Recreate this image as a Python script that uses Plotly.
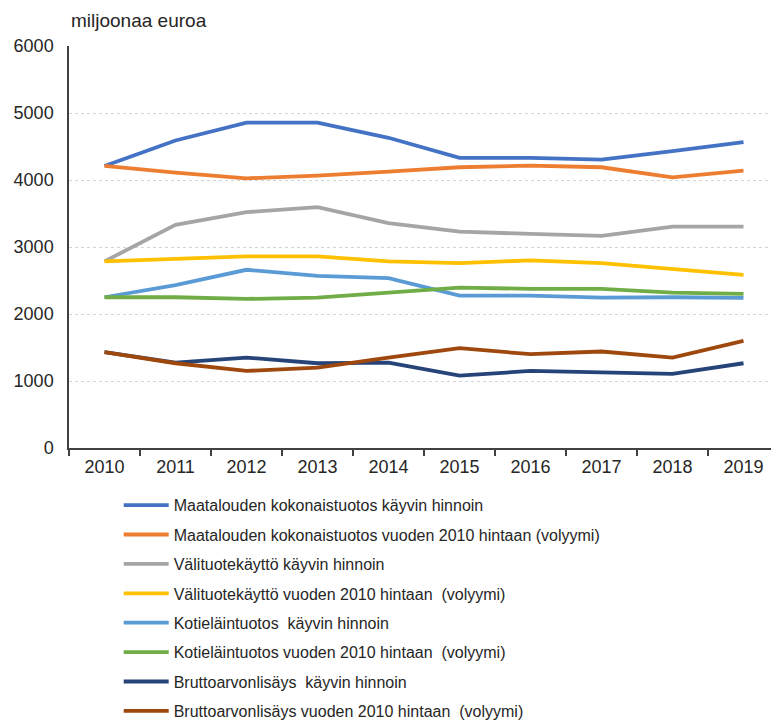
import plotly.graph_objects as go

years = ["2010", "2011", "2012", "2013", "2014", "2015", "2016", "2017", "2018", "2019"]

names = [
    "Maatalouden kokonaistuotos käyvin hinnoin",
    "Maatalouden kokonaistuotos vuoden 2010 hintaan (volyymi)",
    "Välituotekäyttö käyvin hinnoin",
    "Välituotekäyttö vuoden 2010 hintaan  (volyymi)",
    "Kotieläintuotos  käyvin hinnoin",
    "Kotieläintuotos vuoden 2010 hintaan  (volyymi)",
    "Bruttoarvonlisäys  käyvin hinnoin",
    "Bruttoarvonlisäys vuoden 2010 hintaan  (volyymi)",
]

kokonais_kayvin = [4210, 4590, 4855, 4855, 4630, 4330, 4330, 4305, 4430, 4565]
kokonais_vol = [4210, 4110, 4025, 4065, 4125, 4190, 4215, 4190, 4040, 4140]
valituote_kayvin = [2785, 3330, 3520, 3595, 3355, 3230, 3195, 3165, 3305, 3305]
valituote_vol = [2785, 2825, 2860, 2860, 2785, 2760, 2800, 2760, 2675, 2585]
kotielain_kayvin = [2250, 2430, 2660, 2570, 2535, 2275, 2275, 2245, 2250, 2240]
kotielain_vol = [2250, 2250, 2225, 2245, 2320, 2395, 2375, 2375, 2320, 2300]
brutto_kayvin = [1430, 1275, 1350, 1265, 1275, 1080, 1150, 1125, 1105, 1265]
brutto_vol = [1430, 1265, 1150, 1200, 1350, 1490, 1400, 1440, 1350, 1600]

series = [kokonais_kayvin, kokonais_vol, valituote_kayvin, valituote_vol,
          kotielain_kayvin, kotielain_vol, brutto_kayvin, brutto_vol]
colors = ["#4472C4", "#ED7D31", "#A5A5A5", "#FFC000",
          "#5B9BD5", "#70AD47", "#264478", "#9E480E"]

font_family = "Liberation Sans, Arial, sans-serif"

fig = go.Figure()
for i, (name, vals, col) in enumerate(zip(names, series, colors)):
    fig.add_trace(go.Scatter(
        x=years, y=vals, name=name, mode="lines", legendgroup=f"g{i}",
        line=dict(color=col, width=3.8),
    ))

fig.update_layout(
    width=771, height=760,
    margin=dict(l=61, r=0, t=38, b=320),
    paper_bgcolor="white", plot_bgcolor="white",
    font=dict(family=font_family, color="#262626"),
    showlegend=True,
    legend=dict(
        x=0.07, y=-0.1, xanchor="left", yanchor="top",
        font=dict(size=16, color="#262626", family=font_family),
        itemwidth=45, bgcolor="rgba(0,0,0,0)",
        tracegroupgap=5.6,
    ),
    xaxis=dict(
        type="category", range=[-0.5, 9.5],
        showline=True, linecolor="#404040", linewidth=1.5,
        ticks="outside", tickson="boundaries", ticklen=6, tickcolor="#404040",
        tickwidth=1.5, ticklabelstandoff=2,
        showgrid=False, zeroline=False,
        tickfont=dict(size=18, color="#262626"),
    ),
    yaxis=dict(
        range=[0, 6000], dtick=1000,
        showline=True, linecolor="#404040", linewidth=1.5,
        showgrid=True, gridcolor="#d4d4d4", gridwidth=1, griddash="dot",
        zeroline=False,
        ticks="outside", ticklen=10, tickcolor="rgba(0,0,0,0)",
        tickfont=dict(size=18, color="#262626"),
    ),
    annotations=[dict(
        text="miljoonaa euroa", xref="paper", yref="paper",
        x=0.0, y=1.0, yshift=26, xanchor="left", yanchor="middle",
        showarrow=False, font=dict(size=19, color="#262626", family=font_family),
    )],
)

fig.write_html("out.html")
